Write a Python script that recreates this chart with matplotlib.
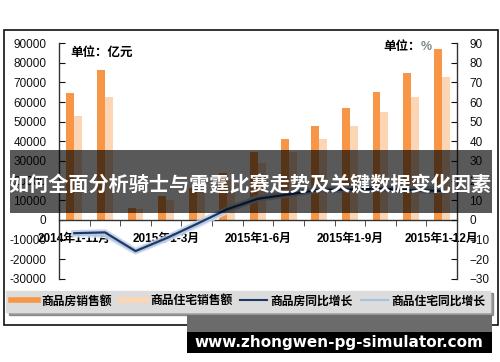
import numpy as np
import matplotlib
matplotlib.use("Agg")
import matplotlib.pyplot as plt
from matplotlib.lines import Line2D
from matplotlib.patches import Rectangle
import matplotlib.patheffects as pe

plt.rcParams['font.family'] = ['Liberation Sans', 'Noto Sans CJK SC', 'DejaVu Sans']

# data
categories = ['2014年1-11月', '2014年1-12月', '2015年1-2月', '2015年1-3月', '2015年1-4月',
              '2015年1-5月', '2015年1-6月', '2015年1-7月', '2015年1-8月', '2015年1-9月',
              '2015年1-10月', '2015年1-11月', '2015年1-12月']
sales_all = [64600, 76100, 6200, 12200, 16500, 24000, 34500, 41100, 47900, 57000, 65000, 75000, 87200]
sales_res = [52900, 62300, 5400, 10200, 14000, 21000, 29000, 34500, 41100, 47900, 54700, 62300, 72700]
growth_all = [-6.7, -6.3, -15.8, -9.3, -2.0, 5.5, 10.8, 13.0, 15.3, 15.5, 16.0, 15.2, 14.8]
growth_res = [-7.5, -7.8, -16.2, -10.0, -3.0, 4.5, 11.5, 14.3, 16.0, 16.2, 16.8, 16.3, 16.6]
left_ticks = list(range(-30000, 90001, 10000))
right_ticks = list(range(-30, 91, 10))
series_names = ['商品房销售额', '商品住宅销售额', '商品房同比增长', '商品住宅同比增长']

c_orange = '#f79646'
c_peach = '#fcd5b4'
c_dark = '#1f3864'
c_light = '#a9c1e0'

fig = plt.figure(figsize=(5, 3.62), dpi=100)
ax = fig.add_axes([0.118, 0.2293, 0.796, 0.6519])
ax2 = ax.twinx()

x = np.arange(len(categories))
w = 0.26
ax.bar(x - w / 2, sales_all, w, color=c_orange, zorder=2)
ax.bar(x + w / 2, sales_res, w, color=c_peach, zorder=2)

ax.set_xlim(-0.5, len(categories) - 0.5)
ax.set_ylim(-30000, 90000)
ax.set_yticks(left_ticks)
ax.set_yticklabels([str(v) for v in left_ticks])
ax.tick_params(axis='y', direction='in', length=4, pad=9, labelsize=8.5, colors='#111111')

ax.spines['top'].set_visible(False)
ax.spines['right'].set_visible(False)
ax.spines['bottom'].set_position(('data', 0))
for s in ax.spines.values():
    s.set_linewidth(1.0)
    s.set_color('#333333')

ax.set_xticks(x)
ax.set_xticklabels([c if i % 3 == 0 else '' for i, c in enumerate(categories)],
                   fontsize=8.5, fontweight='bold')
ax.set_xticks(np.arange(-0.5, len(categories)), minor=True)
ax.tick_params(axis='x', which='major', length=0, pad=9)
ax.tick_params(axis='x', which='minor', direction='out', length=4, color='#333333')

glow_d = [pe.Stroke(linewidth=4.5, foreground='#b8cbe6', alpha=0.8), pe.Normal()]
glow_l = [pe.Stroke(linewidth=4, foreground='#dbe5f3', alpha=0.8), pe.Normal()]
ax2.plot(x, growth_res, color=c_light, lw=1.6, path_effects=glow_l, zorder=3)
ax2.plot(x, growth_all, color=c_dark, lw=1.6, path_effects=glow_d, zorder=4)
ax2.set_ylim(-30, 90)
ax2.set_yticks(right_ticks)
ax2.tick_params(axis='y', direction='in', length=4, pad=9, labelsize=8.5, colors='#111111')
for k in ['top', 'bottom', 'left']:
    ax2.spines[k].set_visible(False)
ax2.spines['right'].set_linewidth(1.0)
ax2.spines['right'].set_color('#333333')

ax.text(0.028, 0.958, '单位：亿元', transform=ax.transAxes, fontsize=9,
        fontweight='bold', va='center', ha='left')
ax.text(0.908, 0.983, '单位：', transform=ax.transAxes, fontsize=9,
        fontweight='bold', va='center', ha='right')
ax.text(0.910, 0.983, '%', transform=ax.transAxes, fontsize=9,
        fontweight='bold', va='center', ha='left', color='#7f8c8c')

# legend strip
handles = [Line2D([], [], color=c_orange, lw=4),
           Line2D([], [], color=c_peach, lw=4),
           Line2D([], [], color=c_dark, lw=1.5),
           Line2D([], [], color=c_light, lw=1.5)]
leg = fig.legend(handles, series_names, ncol=4, loc='lower left',
                 bbox_to_anchor=(0.012, 0.138, 0.968, 0.075), mode='expand',
                 frameon=True, fancybox=False, shadow=True, facecolor='#dcdcdc',
                 edgecolor='#dcdcdc', handlelength=2.3, handletextpad=0.3,
                 columnspacing=0.8, borderaxespad=0,
                 prop={'weight': 'bold', 'size': 8.5})
leg.get_frame().set_alpha(1)

# outer frame
fig.add_artist(Rectangle((0.008, 0.102), 0.988, 0.815, transform=fig.transFigure,
                         fill=False, edgecolor='#111111', lw=1.2, zorder=1))

# overlay banner
fig.add_artist(Rectangle((0.02, 0.4116), 0.964, 0.174, transform=fig.transFigure,
                         facecolor='black', alpha=0.65, edgecolor='none', zorder=10))
fig.text(0.5, 0.489, '如何全面分析骑士与雷霆比赛走势及关键数据变化因素', color='white',
         fontsize=14.5, fontweight='bold', family=['Noto Sans CJK SC'],
         ha='center', va='center', zorder=11)

# watermark
fig.add_artist(Rectangle((0.374, 0.0829), 0.61, 0.047, transform=fig.transFigure,
                         facecolor='#6b6b6b', edgecolor='none', zorder=10))
fig.add_artist(Rectangle((0.374, 0.0249), 0.61, 0.058, transform=fig.transFigure,
                         facecolor='black', edgecolor='none', zorder=10))
fig.text(0.677, 0.0552, 'www.zhongwen-pg-simulator.com', color='white', fontsize=11,
         fontweight='bold', family=['DejaVu Sans'], ha='center', va='center', zorder=11)

fig.savefig('out.png', dpi=100)
